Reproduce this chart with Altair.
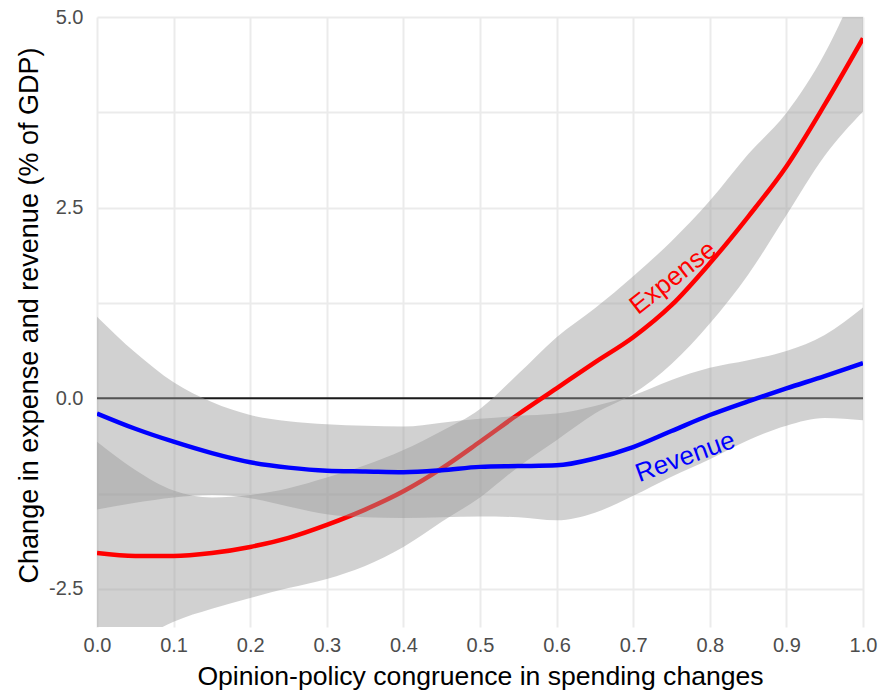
import altair as alt
import pandas as pd

# ---- data ----
x_vals = [0.0, 0.05, 0.10, 0.15, 0.20, 0.25, 0.30, 0.35, 0.40, 0.45, 0.50,
          0.55, 0.60, 0.65, 0.70, 0.75, 0.80, 0.85, 0.90, 0.95, 1.0]

expense_fit = [-2.03, -2.07, -2.07, -2.03, -1.95, -1.83, -1.66, -1.46, -1.22, -0.92, -0.57,
               -0.21, 0.13, 0.47, 0.80, 1.22, 1.77, 2.38, 3.04, 3.85, 4.72]
expense_hi = [-0.57, -0.94, -1.21, -1.30, -1.27, -1.18, -1.04, -0.88, -0.68, -0.43, -0.14,
              0.32, 0.80, 1.18, 1.60, 2.06, 2.59, 3.20, 3.74, 4.52, 5.60]
expense_lo = [-3.49, -3.20, -2.93, -2.76, -2.62, -2.49, -2.37, -2.20, -1.95, -1.62, -1.30,
              -0.90, -0.55, -0.20, 0.06, 0.45, 0.98, 1.62, 2.40, 3.18, 3.76]

revenue_fit = [-0.20, -0.40, -0.57, -0.72, -0.84, -0.91, -0.95, -0.96, -0.97, -0.945, -0.90,
               -0.89, -0.88, -0.79, -0.64, -0.43, -0.22, -0.04, 0.13, 0.29, 0.46]
revenue_hi = [1.07, 0.60, 0.21, -0.05, -0.22, -0.30, -0.34, -0.36, -0.37, -0.32, -0.27,
              -0.23, -0.20, -0.10, 0.04, 0.24, 0.40, 0.50, 0.62, 0.83, 1.19]
revenue_lo = [-1.46, -1.37, -1.30, -1.27, -1.31, -1.42, -1.52, -1.56, -1.57, -1.56, -1.55,
              -1.56, -1.60, -1.50, -1.28, -1.03, -0.80, -0.55, -0.36, -0.26, -0.29]

x_ticks = [0.0, 0.1, 0.2, 0.3, 0.4, 0.5, 0.6, 0.7, 0.8, 0.9, 1.0]
y_grid = [-2.5, -1.25, 0.0, 1.25, 2.5, 3.75, 5.0]

labels = ["Expense", "Revenue"]
label_x = [0.752, 0.768]
label_y = [1.58, -0.77]

exp_df = pd.DataFrame({"x": x_vals, "fit": expense_fit, "lo": expense_lo, "hi": expense_hi})
rev_df = pd.DataFrame({"x": x_vals, "fit": revenue_fit, "lo": revenue_lo, "hi": revenue_hi})
zero_df = pd.DataFrame({"x": [0.0], "x2": [1.0], "y": [0.0]})

xscale = alt.Scale(domain=[0, 1], nice=False, zero=False)
yscale = alt.Scale(domain=[-3, 5], nice=False, zero=False)

X_TITLE = "Opinion-policy congruence in spending changes"
Y_TITLE = "Change in expense and revenue (% of GDP)"

x_axis = alt.Axis(
    values=x_ticks, format=".1f", title=X_TITLE,
    ticks=False, tickSize=0, domain=False, labelPadding=8,
    labelFlush=False, labelOverlap=False, labelBound=False,
    titleY=57, titleBaseline="alphabetic", titleFontSize=26.6,
)
y_axis = alt.Axis(
    values=y_grid, ticks=False, tickSize=0, domain=False, labelPadding=14,
    labelFlush=False, labelOverlap=False,
    labelExpr="abs(datum.value % 2.5) < 0.001 ? (datum.value < 0 ? '-' : '') + format(abs(datum.value), '.1f') : ''",
    title=Y_TITLE, titleFontSize=27,
    titleX=-60, titleY=298, titleAngle=270, titleAlign="center", titleBaseline="alphabetic",
)


def X(field):
    return alt.X(field, type="quantitative", scale=xscale, axis=x_axis, title=X_TITLE)


def Y(field):
    return alt.Y(field, type="quantitative", scale=yscale, axis=y_axis, title=Y_TITLE)


band_kw = dict(color="#999999", opacity=0.45, clip=True, interpolate="monotone")
line_kw = dict(strokeWidth=4.5, clip=True, interpolate="monotone")

zero = alt.Chart(zero_df).mark_rule(color="#1a1a1a", strokeWidth=1.8).encode(
    x=X("x"), x2="x2:Q", y=Y("y"),
)
exp_band = alt.Chart(exp_df).mark_area(**band_kw).encode(x=X("x"), y=Y("lo"), y2="hi:Q")
exp_line = alt.Chart(exp_df).mark_line(color="#ff0000", **line_kw).encode(x=X("x"), y=Y("fit"))
rev_band = alt.Chart(rev_df).mark_area(**band_kw).encode(x=X("x"), y=Y("lo"), y2="hi:Q")
rev_line = alt.Chart(rev_df).mark_line(color="#0000ff", **line_kw).encode(x=X("x"), y=Y("fit"))

lab_df_exp = pd.DataFrame({"label": [labels[0]], "x": [label_x[0]], "y": [label_y[0]]})
lab_df_rev = pd.DataFrame({"label": [labels[1]], "x": [label_x[1]], "y": [label_y[1]]})

exp_text = alt.Chart(lab_df_exp).mark_text(
    color="#ff0000", fontSize=26, angle=322, align="center", baseline="middle"
).encode(x=X("x"), y=Y("y"), text="label:N")
rev_text = alt.Chart(lab_df_rev).mark_text(
    color="#0000ff", fontSize=26, angle=340, align="center", baseline="middle"
).encode(x=X("x"), y=Y("y"), text="label:N")

chart = alt.layer(zero, exp_band, exp_line, rev_band, rev_line, exp_text, rev_text).properties(
    width=766, height=610,
    autosize=alt.AutoSizeParams(type="none"),
    padding={"left": 97, "top": 17, "right": 18, "bottom": 64},
).configure(
    font="Liberation Sans",
).configure_view(
    stroke=None,
).configure_axis(
    gridColor="#ebebeb", gridWidth=2,
    labelColor="#4d4d4d", labelFontSize=20, labelFont="Liberation Sans",
    titleColor="#000000", titleFont="Liberation Sans", titleFontWeight="normal",
)

chart.save("out.html", embed_options={"renderer": "svg", "actions": False})
